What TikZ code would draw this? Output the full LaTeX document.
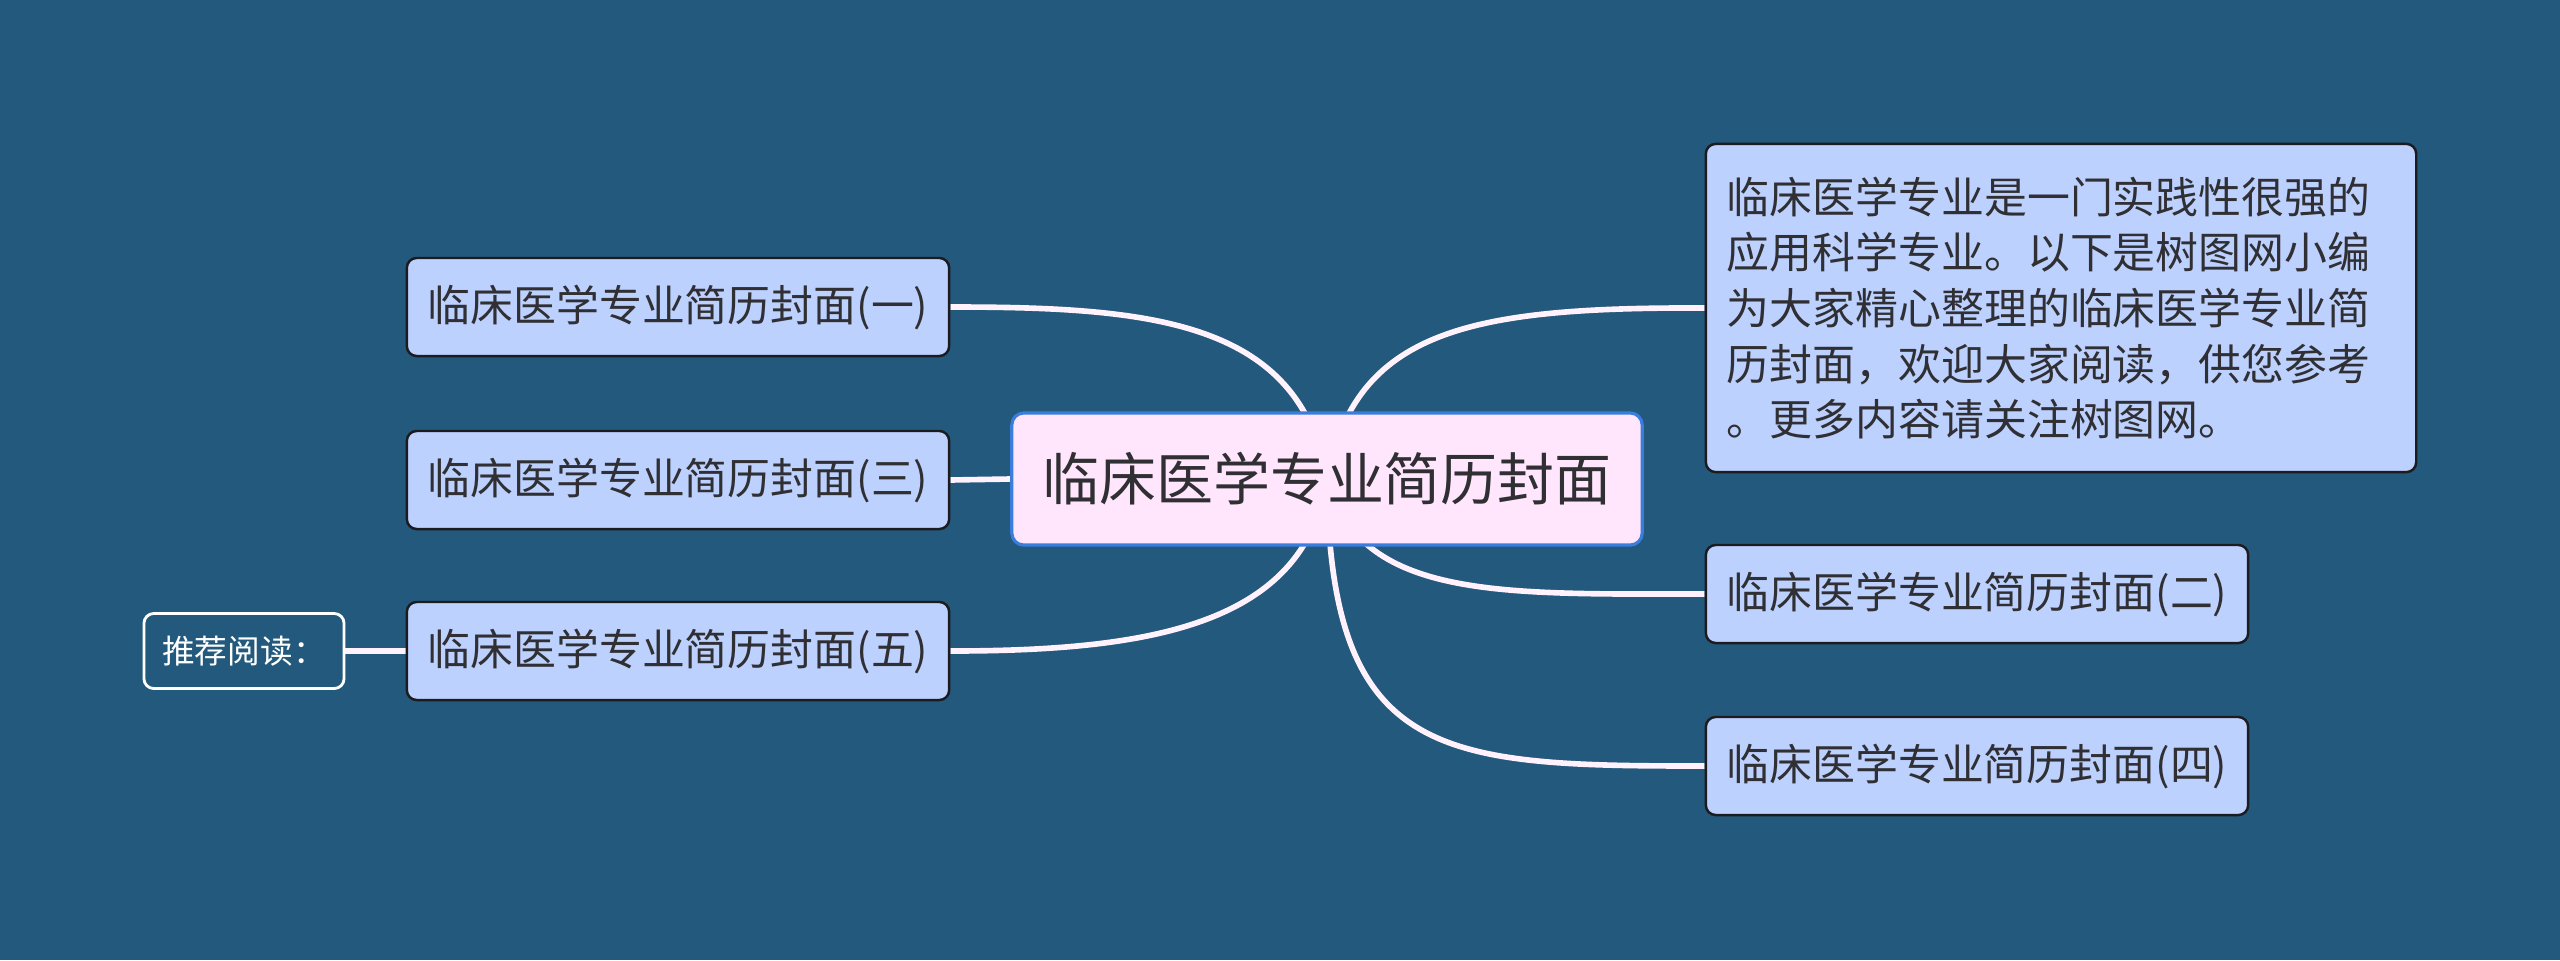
\documentclass[tikz,border=0pt]{standalone}
\usepackage{fontspec}
\setmainfont{Noto Sans CJK SC}
\usetikzlibrary{positioning, backgrounds}
\definecolor{BgColor}{RGB}{35,89,124}
\definecolor{TopicColor}{RGB}{255,230,252}
\definecolor{TopicEdge}{RGB}{58,125,221}
\definecolor{BranchColor}{RGB}{189,209,255}
\definecolor{BranchEdge}{RGB}{28,28,32}
\definecolor{LinkColor}{RGB}{255,242,252}
\definecolor{TextColor}{RGB}{48,48,52}

\begin{document}
\begin{tikzpicture}[
    x=0.01cm, y=-0.01cm,
    topic/.style={draw=TopicEdge, line width=0.9pt, fill=TopicColor, rounded corners=3.4pt,
        minimum width=6.30cm, minimum height=1.32cm, inner sep=0pt,
        text=TextColor, font=\fontsize{16.2}{20}\selectfont},
    branch/.style={draw=BranchEdge, line width=0.7pt, fill=BranchColor, rounded corners=2.8pt,
        minimum width=5.42cm, minimum height=0.98cm, inner sep=0pt,
        text=TextColor, font=\fontsize{12.2}{15.8}\selectfont},
    summary/.style={branch, align=left, text width=6.68cm, inner xsep=0.21cm,
        minimum height=3.28cm},
    note/.style={draw=white, line width=0.8pt, fill=BgColor, rounded corners=2.8pt,
        minimum width=2.0cm, minimum height=0.75cm, inner sep=0pt,
        text=white, font=\fontsize{9.3}{12}\selectfont},
    link/.style={draw=LinkColor, line width=1.6pt},
]

% Canvas
\begin{pgfonlayer}{background}
\fill[BgColor] (0,0) rectangle (2560,960);
\end{pgfonlayer}

% Central topic
\node[topic] (root) at (1327,479) {临床医学专业简历封面};

% Left branches
\node[branch] (one)   at (678,307) {临床医学专业简历封面(一)};
\node[branch] (three) at (678,480) {临床医学专业简历封面(三)};
\node[branch] (five)  at (678,651) {临床医学专业简历封面(五)};
\node[note] (reading) at (244,651) {推荐阅读：};

% Right branches
\node[summary] (intro) at (2061,308) {临床医学专业是一门实践性很强的\\
应用科学专业。以下是树图网小编\\
为大家精心整理的临床医学专业简\\
历封面，欢迎大家阅读，供您参考\\
。更多内容请关注树图网。};
\node[branch] (two)  at (1977,594) {临床医学专业简历封面(二)};
\node[branch] (four) at (1977,766) {临床医学专业简历封面(四)};

% Links (behind the nodes)
\begin{pgfonlayer}{background}
\draw[link] (root.center) .. controls (1300,320) and (1150,307) .. (one.east);
\draw[link] (root.west) -- (three.east);
\draw[link] (root.center) .. controls (1305,625) and (1150,651) .. (five.east);
\draw[link] (reading.east) -- (five.west);
\draw[link] (root.center) .. controls (1355,330) and (1470,307) .. (intro.west);
\draw[link] (root.center) .. controls (1360,600) and (1500,594) .. (two.west);
\draw[link] (root.center) .. controls (1330,760) and (1440,766) .. (four.west);
\end{pgfonlayer}

\end{tikzpicture}
\end{document}
